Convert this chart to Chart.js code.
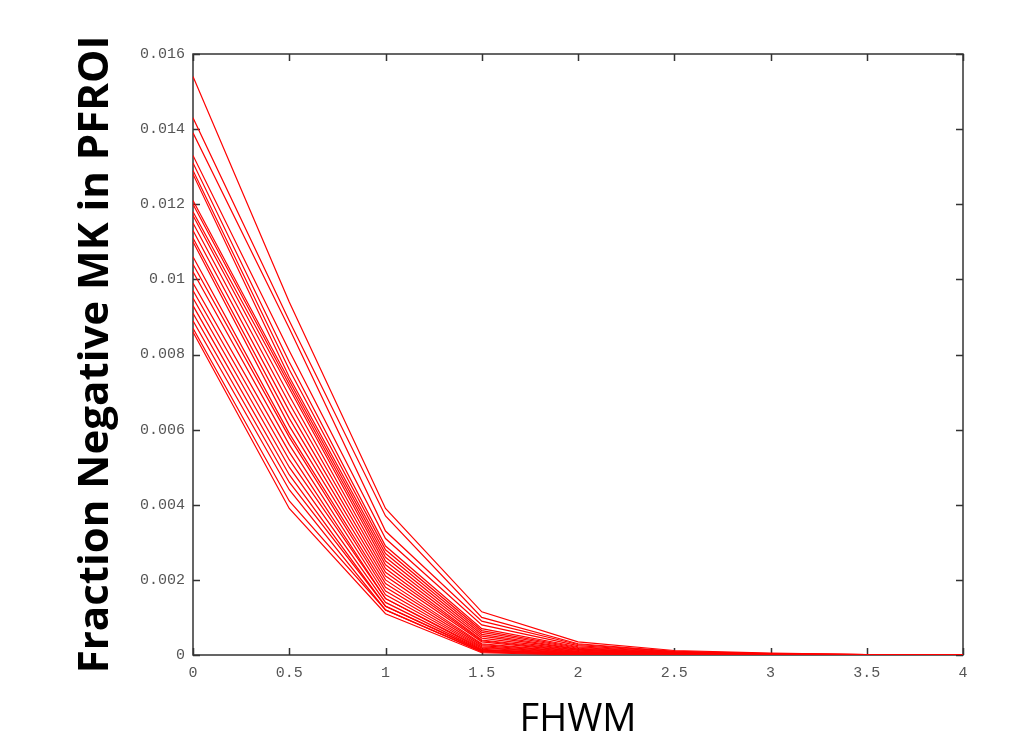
<!DOCTYPE html>
<html>
<head>
<meta charset="utf-8">
<script src="https://cdn.jsdelivr.net/npm/chart.js@4/dist/chart.umd.min.js"></script>
<style>
  html, body { margin: 0; padding: 0; background: #fff; }
  #wrap { width: 1012px; height: 747px; }
</style>
</head>
<body>
<div id="wrap"><canvas id="chart" width="1012" height="747"></canvas></div>
<script>
// FWHM positions (x axis)
const fwhm = [0, 0.5, 1, 1.5, 2, 2.5, 3, 3.5, 4];

// one curve per subject
const line01 = [0.0154, 0.0094, 0.0039, 0.00115, 0.00035, 0.00012, 0.00005, 0.00001, 0];
const line02 = [0.0143, 0.0089, 0.0037, 0.0010, 0.00030, 0.00010, 0.00004, 0.00001, 0];
const line03 = [0.0139, 0.0087, 0.0033, 0.0009, 0.00028, 0.00009, 0.00003, 0.00001, 0];
const line04 = [0.0133, 0.0081, 0.0031, 0.0008, 0.00025, 0.00008, 0.00003, 0.00001, 0];
const line05 = [0.0131, 0.0078, 0.0029, 0.0007, 0.00022, 0.00007, 0.00002, 0, 0];
const line06 = [0.0129, 0.0076, 0.0028, 0.00065, 0.00020, 0.00006, 0.00002, 0, 0];
const line07 = [0.0128, 0.0074, 0.0027, 0.0006, 0.00018, 0.00005, 0.00002, 0, 0];
const line08 = [0.0121, 0.0073, 0.0026, 0.00055, 0.00016, 0.00005, 0.00001, 0, 0];
const line09 = [0.0120, 0.0072, 0.0025, 0.0005, 0.00015, 0.00004, 0.00001, 0, 0];
const line10 = [0.0118, 0.0071, 0.0024, 0.00045, 0.00013, 0.00004, 0.00001, 0, 0];
const line11 = [0.0117, 0.0069, 0.0023, 0.0004, 0.00012, 0.00003, 0.00001, 0, 0];
const line12 = [0.0115, 0.0067, 0.0022, 0.00038, 0.00010, 0.00003, 0.00001, 0, 0];
const line13 = [0.0113, 0.0065, 0.0021, 0.00035, 0.00009, 0.00003, 0, 0, 0];
const line14 = [0.0111, 0.0063, 0.0020, 0.0003, 0.00008, 0.00002, 0, 0, 0];
const line15 = [0.0110, 0.0061, 0.0019, 0.00028, 0.00007, 0.00002, 0, 0, 0];
const line16 = [0.0106, 0.0059, 0.0018, 0.00025, 0.00006, 0.00002, 0, 0, 0];
const line17 = [0.0104, 0.0058, 0.0017, 0.00022, 0.00005, 0.00001, 0, 0, 0];
const line18 = [0.0102, 0.0056, 0.0016, 0.0002, 0.00004, 0.00001, 0, 0, 0];
const line19 = [0.0099, 0.0054, 0.0015, 0.00018, 0.00004, 0.00001, 0, 0, 0];
const line20 = [0.0097, 0.0052, 0.0015, 0.00015, 0.00003, 0.00001, 0, 0, 0];
const line21 = [0.0095, 0.0050, 0.0014, 0.00013, 0.00003, 0, 0, 0, 0];
const line22 = [0.0093, 0.0048, 0.0013, 0.00012, 0.00002, 0, 0, 0, 0];
const line23 = [0.0091, 0.0046, 0.0013, 0.0001, 0.00002, 0, 0, 0, 0];
const line24 = [0.0089, 0.0044, 0.0012, 0.00009, 0.00001, 0, 0, 0, 0];
const line25 = [0.0087, 0.0041, 0.0012, 0.00008, 0.00001, 0, 0, 0, 0];
const line26 = [0.0086, 0.0039, 0.0011, 0.00006, 0, 0, 0, 0, 0];

const curves = [line01, line02, line03, line04, line05, line06, line07, line08, line09,
  line10, line11, line12, line13, line14, line15, line16, line17, line18, line19,
  line20, line21, line22, line23, line24, line25, line26];

// frame + inward ticks on all four sides, drawn before the lines
const boxTicks = {
  id: 'boxTicks',
  beforeDatasetsDraw(chart) {
    const { ctx, chartArea: a, scales } = chart;
    const len = 7;
    ctx.save();
    ctx.strokeStyle = '#333';
    ctx.lineWidth = 1.5;
    ctx.strokeRect(a.left, a.top, a.right - a.left, a.bottom - a.top);
    ctx.beginPath();
    scales.x.ticks.forEach(t => {
      const px = Math.round(scales.x.getPixelForValue(t.value)) + 0.5;
      ctx.moveTo(px, a.bottom); ctx.lineTo(px, a.bottom - len);
      ctx.moveTo(px, a.top); ctx.lineTo(px, a.top + len);
    });
    scales.y.ticks.forEach(t => {
      const py = Math.round(scales.y.getPixelForValue(t.value)) + 0.5;
      ctx.moveTo(a.left, py); ctx.lineTo(a.left + len, py);
      ctx.moveTo(a.right, py); ctx.lineTo(a.right - len, py);
    });
    ctx.stroke();
    ctx.restore();
  }
};

const tickFont = { family: 'Liberation Mono', size: 15 };

new Chart(document.getElementById('chart'), {
  type: 'line',
  data: {
    datasets: curves.map((c, i) => ({
      label: 'subject ' + (i + 1),
      data: fwhm.map((x, j) => ({ x: x, y: c[j] })),
      borderColor: '#ff0000',
      borderWidth: 1.2,
      pointRadius: 0,
      tension: 0,
      fill: false
    }))
  },
  options: {
    responsive: false,
    animation: false,
    layout: { padding: { left: 71, right: 49, top: 54, bottom: 4 } },
    plugins: { legend: { display: false }, tooltip: { enabled: false } },
    scales: {
      x: {
        type: 'linear',
        min: 0, max: 4,
        grid: { display: false, drawTicks: false },
        border: { display: false },
        ticks: {
          stepSize: 0.5,
          color: '#555',
          font: tickFont,
          padding: 9,
          maxRotation: 0,
          callback: v => String(v)
        },
        title: {
          display: true,
          text: 'FHWM',
          color: '#000',
          font: { family: 'Open Sans', size: 38 },
          padding: 0
        },
        afterFit: s => { s.height = 88; }
      },
      y: {
        min: 0, max: 0.016,
        grid: { display: false, drawTicks: false },
        border: { display: false },
        ticks: {
          stepSize: 0.002,
          color: '#555',
          font: tickFont,
          padding: 8,
          callback: v => String(Number(v.toFixed(3)))
        },
        title: {
          display: true,
          text: 'Fraction Negative MK in PFROI',
          color: '#000',
          font: { family: 'Open Sans', size: 42, weight: 'bold' },
          padding: 0
        },
        afterFit: s => { s.width = 122; }
      }
    }
  },
  plugins: [boxTicks]
});
</script>
</body>
</html>
